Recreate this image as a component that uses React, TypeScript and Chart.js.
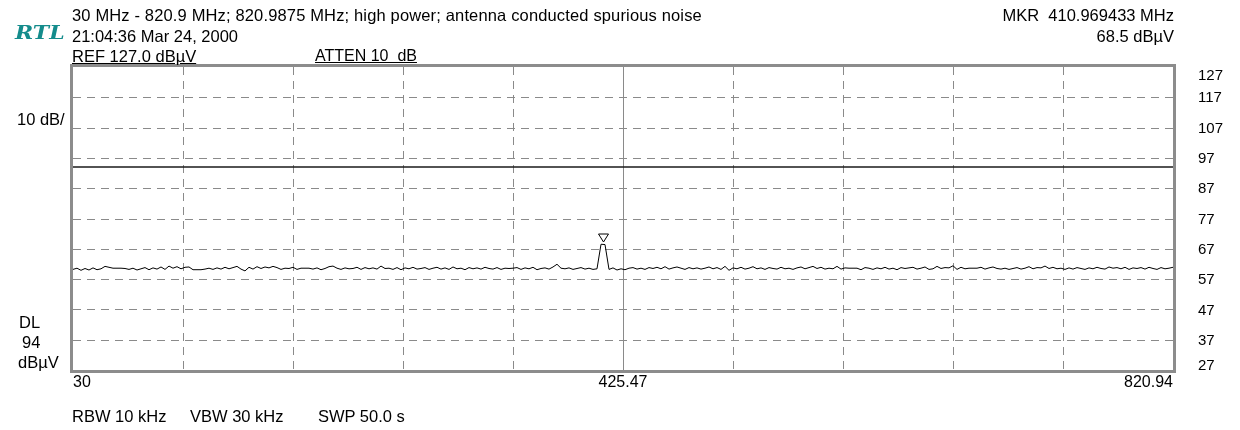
import React, { useEffect, useRef } from "react";
import { Chart, registerables } from "chart.js";

Chart.register(...registerables);

const START_MHZ = 30;
const STOP_MHZ = 820.94;
const REF_LEVEL = 127;
const BOTTOM_LEVEL = 27;
const DIVISIONS = 10;
const DISPLAY_LINE = 94;
const MARKER_FREQ = 410.969433;
const MARKER_LEVEL = 68.5;

const levelTicks = [127, 117, 107, 97, 87, 77, 67, 57, 47, 37, 27];
const freqTickValues = [30, 425.47, 820.94];
const freqTickLabels = ["30", "425.47", "820.94"];

const headerLines = [
  "30 MHz - 820.9 MHz; 820.9875 MHz; high power; antenna conducted spurious noise",
  "21:04:36 Mar 24, 2000",
];
const refText = "REF 127.0 dBµV";
const attenText = "ATTEN 10  dB";
const markerTexts = ["MKR  410.969433 MHz", "68.5 dBµV"];
const footerTexts = ["RBW 10 kHz", "VBW 30 kHz", "SWP 50.0 s"];

// Trace levels (dBµV), one per sweep point
const traceLevels = [
  60.2, 60.6, 59.9, 60.5, 60.0, 60.7, 60.1, 60.4, 61.2, 60.9,
  60.6, 60.6, 60.6, 60.5, 60.2, 60.6, 60.0, 60.4, 60.8, 60.1,
  60.7, 60.3, 61.0, 60.2, 61.3, 60.6, 61.1, 60.4, 60.9, 61.0,
  60.1, 60.1, 60.1, 60.3, 60.6, 60.2, 60.7, 60.3, 60.9, 60.4,
  60.8, 61.2, 60.3, 59.7, 60.9, 60.3, 61.1, 60.5, 61.0, 60.7,
  61.2, 60.8, 60.2, 60.6, 60.5, 60.9, 60.2, 60.6, 60.6, 60.6,
  60.3, 60.7, 60.1, 60.5, 61.1, 61.3, 60.6, 60.2, 60.7, 60.4,
  60.5, 60.9, 60.2, 60.8, 60.4, 60.7, 60.3, 61.3, 60.5, 60.6,
  60.2, 60.8, 60.1, 60.7, 60.4, 60.9, 60.3, 60.5, 60.8, 60.2,
  60.6, 60.9, 60.3, 60.7, 60.2, 61.0, 60.4, 60.6, 60.1, 60.8,
  60.4, 60.7, 60.3, 60.9, 60.5, 60.3, 60.8, 60.2, 60.6, 60.5,
  60.6, 60.8, 60.2, 60.7, 60.4, 60.9, 60.1, 60.5, 60.7, 60.3,
  61.0, 61.9, 60.6, 60.4, 60.7, 60.2, 60.5, 60.8, 60.3, 60.6,
  60.2, 60.4, 68.5, 68.4, 60.2, 60.7, 60.0, 60.4, 60.1, 60.6,
  60.8, 60.3, 60.6, 60.2, 60.8, 60.5, 60.9, 60.4, 61.1, 60.3,
  60.7, 61.0, 60.6, 60.2, 60.8, 60.4, 60.7, 60.3, 60.6, 61.0,
  60.4, 60.8, 60.2, 61.2, 59.9, 60.7, 60.4, 60.9, 60.3, 60.6,
  61.1, 60.4, 60.7, 60.2, 60.8, 60.5, 60.3, 60.9, 60.4, 60.6,
  60.2, 60.7, 61.0, 60.4, 60.8, 61.2, 60.5, 60.9, 60.3, 60.6,
  60.4, 61.2, 60.3, 60.7, 60.6, 60.6, 60.6, 60.1, 60.8, 60.6,
  60.2, 60.7, 60.4, 60.9, 60.3, 60.6, 60.1, 60.8, 60.5, 60.7,
  60.9, 60.3, 60.6, 61.0, 60.2, 60.4, 61.2, 60.5, 60.8, 60.7,
  61.4, 60.2, 60.9, 60.4, 60.6, 60.6, 60.6, 60.9, 60.3, 60.7,
  61.0, 60.5, 60.3, 60.6, 60.2, 60.5, 60.8, 60.3, 60.6, 61.1,
  60.4, 60.8, 60.7, 61.3, 60.5, 60.9, 60.4, 60.6, 60.2, 60.7,
  60.3, 60.8, 60.5, 60.2, 60.7, 60.4, 60.9, 60.5, 60.3, 61.0,
  60.6, 60.8, 60.4, 60.9, 60.2, 60.7, 60.5, 60.8, 60.3, 60.9,
  60.5, 60.2, 60.8, 60.4, 60.6, 60.9,
];

const FONT = "'Liberation Sans', Arial, sans-serif";
const GRID = "#8a8a8a";
const DASH = [8, 6];

const decorPlugin = {
  id: "analyzerDecor",
  beforeDatasetsDraw(chart: any) {
    const { ctx, chartArea: a, scales } = chart;
    const xs = scales.x;
    const ys = scales.y;
    ctx.save();
    ctx.strokeStyle = GRID;
    ctx.lineWidth = 1;
    for (let i = 1; i < DIVISIONS; i++) {
      const v = START_MHZ + (i * (STOP_MHZ - START_MHZ)) / DIVISIONS;
      const px = Math.round(xs.getPixelForValue(v)) + 0.5;
      ctx.setLineDash(i === DIVISIONS / 2 ? [] : DASH);
      ctx.beginPath();
      ctx.moveTo(px, a.top);
      ctx.lineTo(px, a.bottom);
      ctx.stroke();
    }
    ctx.setLineDash(DASH);
    levelTicks.forEach((lv) => {
      if (lv === REF_LEVEL || lv === BOTTOM_LEVEL) return;
      const py = Math.round(ys.getPixelForValue(lv)) + 0.5;
      ctx.beginPath();
      ctx.moveTo(a.left, py);
      ctx.lineTo(a.right, py);
      ctx.stroke();
    });
    ctx.restore();
  },
  afterDatasetsDraw(chart: any) {
    const { ctx, chartArea: a, scales } = chart;
    const xs = scales.x;
    const ys = scales.y;
    ctx.save();
    ctx.setLineDash([]);
    ctx.strokeStyle = "#8c8c8c";
    ctx.lineWidth = 3;
    ctx.strokeRect(a.left - 1.5, a.top - 1.5, a.right - a.left + 3, a.bottom - a.top + 3);

    const mx = Math.round(xs.getPixelForValue(MARKER_FREQ)) + 0.5;
    const my = Math.round(ys.getPixelForValue(MARKER_LEVEL));
    ctx.lineWidth = 1;
    ctx.strokeStyle = "#000";
    ctx.fillStyle = "#fff";
    ctx.beginPath();
    ctx.moveTo(mx, my - 2);
    ctx.lineTo(mx - 5, my - 10);
    ctx.lineTo(mx + 5, my - 10);
    ctx.closePath();
    ctx.fill();
    ctx.stroke();

    ctx.fillStyle = "#000";
    ctx.font = `15px ${FONT}`;
    ctx.textBaseline = "middle";
    ctx.textAlign = "left";
    levelTicks.forEach((lv) => {
      let py = ys.getPixelForValue(lv);
      py = Math.min(Math.max(py, a.top + 8), a.bottom - 5);
      ctx.fillText(String(lv), 1198, py + 1);
    });
    ctx.textBaseline = "alphabetic";
    ctx.font = `16px ${FONT}`;
    freqTickValues.forEach((fv, i) => {
      const px = xs.getPixelForValue(fv);
      ctx.textAlign = i === 0 ? "left" : i === freqTickValues.length - 1 ? "right" : "center";
      ctx.fillText(freqTickLabels[i], px, a.bottom + 17);
    });
    ctx.restore();
  },
};

export default function App() {
  const canvasRef = useRef<HTMLCanvasElement | null>(null);

  useEffect(() => {
    document.body.style.margin = "0";
    const canvas = canvasRef.current;
    if (!canvas) return;
    const n = traceLevels.length;
    const step = (STOP_MHZ - START_MHZ) / (n - 1);
    const tracePoints = traceLevels.map((lv, i) => ({ x: START_MHZ + i * step, y: lv }));
    const chart = new Chart(canvas, {
      type: "line",
      data: {
        datasets: [
          {
            data: [
              { x: START_MHZ, y: DISPLAY_LINE },
              { x: STOP_MHZ, y: DISPLAY_LINE },
            ],
            borderColor: "#1a1a1a",
            borderWidth: 1.5,
            pointRadius: 0,
            tension: 0,
          },
          {
            data: tracePoints,
            borderColor: "#000",
            borderWidth: 1,
            pointRadius: 0,
            tension: 0,
          },
        ],
      },
      options: {
        responsive: false,
        animation: false,
        devicePixelRatio: 1,
        layout: { padding: { left: 73, right: 67, top: 67, bottom: 60 } },
        scales: {
          x: { type: "linear", min: START_MHZ, max: STOP_MHZ, display: false },
          y: { type: "linear", min: BOTTOM_LEVEL, max: REF_LEVEL, display: false },
        },
        plugins: { legend: { display: false }, tooltip: { enabled: false } },
      },
      plugins: [decorPlugin],
    });
    return () => chart.destroy();
  }, []);

  const txt: React.CSSProperties = {
    position: "absolute",
    fontFamily: FONT,
    fontSize: 16.5,
    lineHeight: "16px",
    color: "#000",
    whiteSpace: "pre",
    margin: 0,
  };

  return (
    <div style={{ position: "fixed", left: 0, top: 0, width: 1240, height: 430, background: "#fff", overflow: "hidden" }}>
      <canvas ref={canvasRef} width={1240} height={430} style={{ position: "absolute", left: 0, top: 0 }} />
      <div
        style={{
          position: "absolute",
          left: 15,
          top: 24,
          fontFamily: "'DejaVu Serif', serif",
          fontStyle: "italic",
          fontWeight: "bold",
          fontSize: 18,
          lineHeight: "18px",
          color: "#148c8c",
          transform: "scaleX(1.22)",
          transformOrigin: "left top",
        }}
      >
        RTL
      </div>
      <div style={{ ...txt, left: 72, top: 7, letterSpacing: 0.15 }}>{headerLines[0]}</div>
      <div style={{ ...txt, left: 72, top: 27.5 }}>{headerLines[1]}</div>
      <div style={{ ...txt, left: 72, top: 47.5, textDecoration: "underline" }}>{refText}</div>
      <div style={{ ...txt, left: 315, top: 47.5, textDecoration: "underline", fontSize: 16 }}>{attenText}</div>
      <div style={{ ...txt, right: 66, top: 7, textAlign: "right" }}>{markerTexts[0]}</div>
      <div style={{ ...txt, right: 66, top: 27.5, textAlign: "right" }}>{markerTexts[1]}</div>
      <div style={{ ...txt, left: 17, top: 111 }}>10 dB/</div>
      <div style={{ ...txt, left: 19, top: 313.5 }}>DL</div>
      <div style={{ ...txt, left: 22, top: 333.5 }}>{String(DISPLAY_LINE)}</div>
      <div style={{ ...txt, left: 18, top: 353.5 }}>dBµV</div>
      <div style={{ ...txt, left: 72, top: 407.5 }}>{footerTexts[0]}</div>
      <div style={{ ...txt, left: 190, top: 407.5 }}>{footerTexts[1]}</div>
      <div style={{ ...txt, left: 318, top: 407.5 }}>{footerTexts[2]}</div>
    </div>
  );
}
